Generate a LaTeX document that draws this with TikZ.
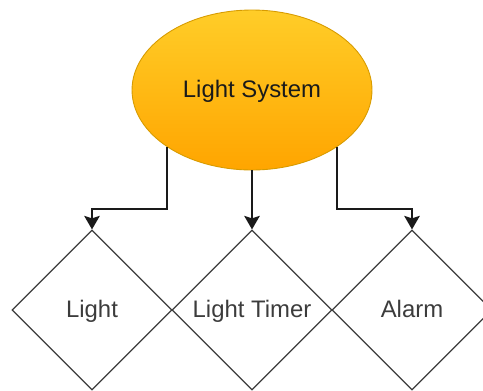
\documentclass[tikz,border=0pt]{standalone}
\usepackage{fontspec}
\setmainfont{Liberation Sans}
\usetikzlibrary{shapes.geometric, arrows.meta, positioning, calc}
\definecolor{sysyellow}{HTML}{FFCD28}
\definecolor{sysorange}{HTML}{FFA500}
\definecolor{sysedge}{HTML}{D79B00}
\definecolor{lineink}{HTML}{1A1A1A}

\begin{document}
\begin{tikzpicture}[
  x=0.02cm, y=-0.02cm,
  sysnode/.style={ellipse, draw=sysedge, line width=0.5pt, top color=sysyellow, bottom color=sysorange, minimum width=4.8cm, minimum height=3.2cm, inner sep=0pt, font=\fontsize{13.6}{16}\selectfont, text=lineink, text height=0.84em, text depth=0pt},
  partnode/.style={diamond, draw=lineink!85, line width=0.7pt, minimum width=3.2cm, minimum height=3.2cm, inner sep=0pt, font=\fontsize{13.6}{16}\selectfont, text=lineink!85, text height=0.82em, text depth=0pt},
  conn/.style={draw=lineink, line width=1.1pt, -{Stealth[length=0.27cm, width=0.31cm, inset=0.05cm]}}
]
  \useasboundingbox (0,0) rectangle (483,390);
  \node[sysnode] (sys) at (252,90) {Light System};
  \node[partnode] (light) at (92,310) {Light};
  \node[partnode] (timer) at (252,310) {Light Timer};
  \node[partnode] (alarm) at (412,310) {Alarm};
  \draw[conn] (sys.214) |- ([yshift=0.4cm]light.north) -- (light.north);
  \draw[conn] (sys.south) -- (timer.north);
  \draw[conn] (sys.-34) |- ([yshift=0.4cm]alarm.north) -- (alarm.north);
\end{tikzpicture}
\end{document}
